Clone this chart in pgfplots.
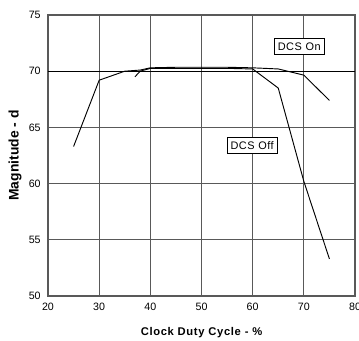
\documentclass[border=0pt]{standalone}
\usepackage{fontspec}
\setmainfont{Liberation Sans}
\usepackage{pgfplots}
\pgfplotsset{compat=1.18}
\begin{document}
\begin{tikzpicture}
\begin{axis}[
  scale only axis,
  width=230.25pt, height=210.75pt,
  xmin=20, xmax=80, ymin=50, ymax=75,
  xtick={20,30,...,80}, ytick={50,55,...,75},
  /pgf/number format/assume math mode=true,
  tick label style={font=\fontsize{8}{9}\selectfont},
  major tick length=0pt,
  grid=major,
  grid style={gray!70!black, line width=0.7pt},
  axis line style={gray!70!black, line width=0.8pt},
  xticklabel style={yshift=-2pt},
  yticklabel style={xshift=-2pt},
  xlabel={\addfontfeatures{LetterSpace=6}Clock Duty Cycle - \%},
  ylabel={Magnitude - d},
  xlabel style={font=\fontsize{8.4}{10}\selectfont\bfseries, at={(axis description cs:0.5,0)}, anchor=center, yshift=-27.75pt},
  ylabel style={font=\fontsize{10.4}{12}\selectfont\bfseries, at={(axis description cs:0,0.5)}, anchor=center, yshift=24.75pt},
  clip=false,
]
\addplot[black, line width=0.9pt, forget plot] coordinates {(20,70) (80,70)};
\addplot[black, line width=0.7pt] coordinates {
(25,63.3) (30,69.2) (35,70.0) (38,70.1) (40,70.3) (45,70.35) (50,70.35) (55,70.35) (60,70.3) (65,70.2) (70,69.65) (75,67.4)};
\addplot[black, line width=0.7pt] coordinates {
(37,69.5) (38,70.0) (40,70.25) (45,70.25) (50,70.25) (55,70.25) (60,70.2) (65,68.5) (70,60.2) (75,53.3)};
\node[draw=black, fill=white, line width=0.6pt, inner xsep=2.5pt, inner ysep=3.3pt, font=\fontsize{8.2}{9}\selectfont\addfontfeatures{LetterSpace=5}] at (axis cs:69.1,72.2) {DCS On};
\node[draw=black, fill=white, line width=0.6pt, inner xsep=2.5pt, inner ysep=3.3pt, font=\fontsize{8.2}{9}\selectfont\addfontfeatures{LetterSpace=5}] at (axis cs:59.9,63.4) {DCS Off};
\coordinate (SW) at (rel axis cs:0,0);
\coordinate (NE) at (rel axis cs:1,1);
\end{axis}
\pgfresetboundingbox
\path[use as bounding box] ([xshift=-36pt, yshift=-33.75pt]SW) rectangle ([xshift=3pt, yshift=11.25pt]NE);
\end{tikzpicture}
\end{document}
